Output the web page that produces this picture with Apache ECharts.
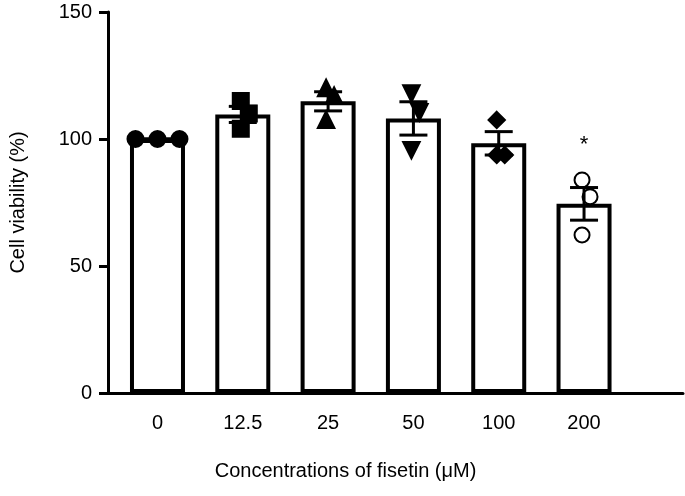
<!DOCTYPE html>
<html><head><meta charset="utf-8">
<script src="https://cdn.jsdelivr.net/npm/echarts@6/dist/echarts.min.js"></script>
<style>html,body{margin:0;padding:0;background:#fff}#c{width:685px;height:496px}</style>
</head><body><div id="c"></div>
<script>
const categories = ['0', '12.5', '25', '50', '100', '200'];
const points = [
  [100, 100, 100],
  [115, 110, 104],
  [120, 117, 107.5],
  [118, 110.6, 95.7],
  [107.5, 93.7, 93.7],
  [83.9, 77.3, 62.2]
];
const symbols = ['circle', 'rect', 'triangle', 'path://M0,0 L10,0 L5,9 Z', 'diamond', 'emptyCircle'];
const yTicks = [0, 50, 100, 150];
const significance = ['', '', '', '', '', '*'];

const means = points.map(p => p.reduce((a, b) => a + b, 0) / p.length);
const sems = points.map((p, i) => {
  const m = means[i];
  const sd = Math.sqrt(p.reduce((a, b) => a + (b - m) * (b - m), 0) / (p.length - 1));
  return sd / Math.sqrt(p.length);
});
const offsets = [-22, 0, 22];
const scatterData = [];
points.forEach((p, i) => p.forEach((v, j) => scatterData.push({
  value: [i, v], symbol: symbols[i], symbolOffset: [i === 0 ? offsets[j] : (j === 1 ? 6 : -2), 0]
})));

const font = 'Arial, Liberation Sans, sans-serif';
const chart = echarts.init(document.getElementById('c'));
chart.setOption({
  animation: false,
  grid: { left: 103, right: 2, top: 12, bottom: 103 },
  xAxis: {
    type: 'value', min: -0.58, max: 6.16,
    splitLine: { show: false },
    axisLine: { onZero: false, lineStyle: { color: '#000', width: 3 } },
    axisTick: { show: false },
    axisLabel: { customValues: [0, 1, 2, 3, 4, 5], formatter: v => categories[Math.round(v)],
      color: '#000', fontSize: 20, fontFamily: font, margin: 20 },
    name: 'Concentrations of fisetin (μM)', nameLocation: 'middle', nameGap: 68,
    nameTextStyle: { color: '#000', fontSize: 20, fontFamily: font, padding: [0, 0, 0, -100] }
  },
  yAxis: {
    type: 'value', min: 0, max: 150, interval: 50,
    splitLine: { show: false },
    axisLine: { show: true, onZero: false, lineStyle: { color: '#000', width: 3 } },
    axisTick: { show: true, length: 9, lineStyle: { width: 3, color: '#000' } },
    axisLabel: { color: '#000', fontSize: 20, fontFamily: font, margin: 16 },
    name: 'Cell viability (%)', nameLocation: 'middle', nameGap: 80, nameRotate: 90,
    nameTextStyle: { color: '#000', fontSize: 20, fontFamily: font }
  },
  series: [
    { type: 'bar', barWidth: 55, data: means.map((m, i) => [i, m]),
      itemStyle: { color: '#fff', borderColor: '#000', borderWidth: 4 },
      label: { show: true, position: 'top', distance: 48, formatter: p => significance[p.dataIndex],
        fontSize: 22, color: '#000', fontFamily: font }, z: 1 },
    { type: 'scatter', data: scatterData, symbolSize: 15,
      itemStyle: { color: '#000', borderColor: '#000', borderWidth: 3, opacity: 1 }, z: 3 },
    { type: 'custom', z: 4,
      data: means.map((m, i) => [i, m - sems[i], m + sems[i]]),
      renderItem: (params, api) => {
        const lo = api.coord([api.value(0), api.value(1)]);
        const hi = api.coord([api.value(0), api.value(2)]);
        const w = 14, st = { stroke: '#000', lineWidth: 3 };
        return { type: 'group', children: [
          { type: 'line', shape: { x1: lo[0], y1: lo[1], x2: hi[0], y2: hi[1] }, style: st },
          { type: 'line', shape: { x1: lo[0] - w, y1: lo[1], x2: lo[0] + w, y2: lo[1] }, style: st },
          { type: 'line', shape: { x1: hi[0] - w, y1: hi[1], x2: hi[0] + w, y2: hi[1] }, style: st }
        ]};
      } }
  ]
});
</script></body></html>
